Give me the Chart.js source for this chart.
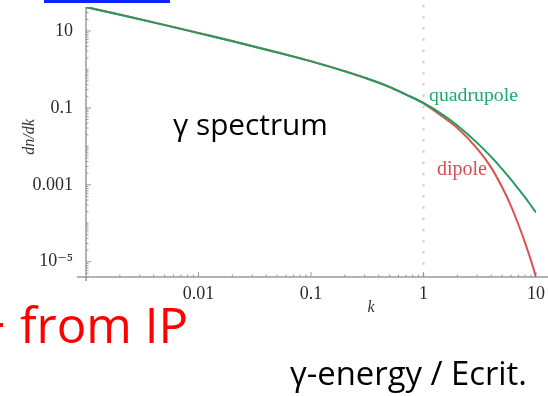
<!DOCTYPE html>
<html>
<head>
<meta charset="utf-8">
<script src="https://cdn.jsdelivr.net/npm/chart.js@4.4.0/dist/chart.umd.min.js"></script>
<style>
  html, body { margin: 0; padding: 0; background: #fff; overflow: hidden; }
  canvas { display: block; }
</style>
</head>
<body>
<canvas id="c" width="548" height="396"></canvas>
<script>
// Photon number spectrum dn/dk versus k (energy in units of the critical energy)
const kValues    = [0.001, 0.002, 0.005, 0.01, 0.02, 0.05, 0.1, 0.2, 0.3, 0.5, 0.7, 1, 1.5, 2, 3, 4, 5, 6, 7, 8, 9, 10];
const dipole     = [42, 26.7, 14.4, 8.9, 5.5, 2.8, 1.64, 0.90, 0.61, 0.35, 0.22, 0.131, 0.057, 0.030, 0.0087, 0.0028, 0.00086, 0.00028, 0.00009, 0.000031, 0.000011, 0.0000040];
const quadrupole = [41.5, 26.3, 14.2, 8.8, 5.42, 2.76, 1.62, 0.89, 0.605, 0.348, 0.222, 0.135, 0.065, 0.0348, 0.0123, 0.0053, 0.00255, 0.00136, 0.00077, 0.00047, 0.00029, 0.00019];

const xTickValues = [0.01, 0.1, 1, 10];
const xTickLabels = ['0.01', '0.1', '1', '10'];
const yTickValues = [1e-5, 1e-3, 0.1, 10];
const yTickLabels = ['10\u207B\u2075', '0.001', '0.1', '10'];

const X_MIN = 0.001, X_MAX = 10;
const Y_MIN = 4e-6, Y_MAX = 42;

const GREEN = 'rgb(38,155,95)';
const RED = 'rgb(218,82,82)';
const AXIS = '#9a9a9a';
const SERIF = '"Liberation Serif", "DejaVu Serif", serif';
const SANS = '"Open Sans", "Noto Sans", sans-serif';

function pts(ys) { return kValues.map((k, i) => ({ x: k, y: ys[i] })); }

// Draws text so that it spans a given width starting at x
function fitText(ctx, str, family, style, x, y, width, color) {
  ctx.font = style + '100px ' + family;
  const w = ctx.measureText(str).width;
  const size = 100 * width / w;
  ctx.font = style + size.toFixed(2) + 'px ' + family;
  ctx.fillStyle = color;
  ctx.textAlign = 'left';
  ctx.textBaseline = 'alphabetic';
  ctx.fillText(str, x, y);
}

const decorations = {
  id: 'decorations',
  beforeDatasetsDraw(chart) {
    const ctx = chart.ctx;
    const xs = chart.scales.x, ys = chart.scales.y;
    const a = chart.chartArea;
    ctx.save();
    // dotted guide at k = 1
    const x1 = xs.getPixelForValue(1);
    ctx.strokeStyle = '#cccccc';
    ctx.lineWidth = 2.2;
    ctx.setLineDash([2.2, 9]);
    ctx.beginPath();
    ctx.moveTo(x1, a.top - 2);
    ctx.lineTo(x1, a.bottom);
    ctx.stroke();
    ctx.setLineDash([]);

    // axes crossing at the lower left corner
    ctx.strokeStyle = AXIS;
    ctx.lineWidth = 1.5;
    ctx.beginPath();
    ctx.moveTo(a.left - 9, a.bottom);
    ctx.lineTo(chart.width, a.bottom);
    ctx.moveTo(a.left, a.top);
    ctx.lineTo(a.left, a.bottom + 4);
    ctx.stroke();

    // inward tick marks, major at labelled values, minor at 2..9
    ctx.lineWidth = 1;
    ctx.beginPath();
    for (let d = -3; d <= 1; d++) {
      for (let m = 1; m <= 9; m++) {
        const v = m * Math.pow(10, d);
        if (v <= X_MIN * 1.0001 || v > X_MAX * 1.0001) continue;
        const px = xs.getPixelForValue(v);
        const len = m === 1 ? 5 : 2.5;
        ctx.moveTo(px, a.bottom);
        ctx.lineTo(px, a.bottom - len);
      }
    }
    for (let d = -6; d <= 1; d++) {
      for (let m = 1; m <= 9; m++) {
        const v = m * Math.pow(10, d);
        if (v < Y_MIN || v > Y_MAX) continue;
        const py = ys.getPixelForValue(v);
        const major = yTickValues.some(t => Math.abs(t - v) / t < 1e-6);
        const len = major ? 5 : 2.5;
        ctx.moveTo(a.left, py);
        ctx.lineTo(a.left + len, py);
      }
    }
    ctx.stroke();
    ctx.restore();
  },
  afterDraw(chart) {
    const ctx = chart.ctx;
    ctx.save();
    // axis titles
    ctx.fillStyle = '#333';
    ctx.font = 'italic 16px ' + SERIF;
    ctx.textAlign = 'center';
    ctx.textBaseline = 'alphabetic';
    ctx.fillText('k', 371, 312);
    ctx.save();
    ctx.translate(34, 137);
    ctx.rotate(-Math.PI / 2);
    ctx.fillText('dn/dk', 0, 0);
    ctx.restore();

    // curve labels
    fitText(ctx, 'quadrupole', SERIF, '', 429, 101, 89, 'rgb(30,168,108)');
    fitText(ctx, 'dipole', SERIF, '', 437, 175, 50, 'rgb(212,80,80)');

    // annotations
    fitText(ctx, '\u03B3 spectrum', SANS, '', 173, 135, 155, '#000');
    fitText(ctx, 'from IP', SANS, '', 20, 343, 168, '#ff0000');
    ctx.fillStyle = '#ff0000';
    ctx.fillRect(0, 323, 3, 4);
    fitText(ctx, '\u03B3-energy / Ecrit.', SANS, '', 290, 385, 237, '#000');

    ctx.fillStyle = '#0a24ff';
    ctx.fillRect(44, 0, 126, 3);
    ctx.restore();
  }
};

new Chart(document.getElementById('c'), {
  type: 'line',
  data: {
    datasets: [
      { label: 'quadrupole', data: pts(quadrupole), borderColor: GREEN, borderWidth: 2, pointRadius: 0, fill: false, cubicInterpolationMode: 'monotone' },
      { label: 'dipole', data: pts(dipole), borderColor: RED, borderWidth: 2, pointRadius: 0, fill: false, cubicInterpolationMode: 'monotone' }
    ]
  },
  options: {
    responsive: false,
    animation: false,
    events: [],
    layout: { padding: { top: 7, right: 12, left: 0, bottom: 0 } },
    plugins: { legend: { display: false }, tooltip: { enabled: false } },
    scales: {
      x: {
        type: 'logarithmic',
        min: X_MIN, max: X_MAX,
        afterFit(s) { s.height = 119; s.paddingLeft = 0; s.paddingRight = 0; },
        afterBuildTicks(s) { s.ticks = xTickValues.map(v => ({ value: v })); },
        grid: { display: false },
        border: { display: false },
        ticks: {
          autoSkip: false, maxRotation: 0, padding: -2,
          color: '#2a2a2a', font: { family: SERIF, size: 18 },
          callback(v) { const i = xTickValues.findIndex(t => Math.abs(t - v) / t < 1e-6); return i >= 0 ? xTickLabels[i] : ''; }
        }
      },
      y: {
        type: 'logarithmic',
        min: Y_MIN, max: Y_MAX,
        afterFit(s) { s.width = 86; s.paddingTop = 0; s.paddingBottom = 0; },
        afterBuildTicks(s) { s.ticks = yTickValues.map(v => ({ value: v })); },
        grid: { display: false },
        border: { display: false },
        ticks: {
          autoSkip: false, padding: 5,
          color: '#2a2a2a', font: { family: SERIF, size: 18 },
          callback(v) { const i = yTickValues.findIndex(t => Math.abs(t - v) / t < 1e-6); return i >= 0 ? yTickLabels[i] : ''; }
        }
      }
    }
  },
  plugins: [decorations]
});
</script>
</body>
</html>
